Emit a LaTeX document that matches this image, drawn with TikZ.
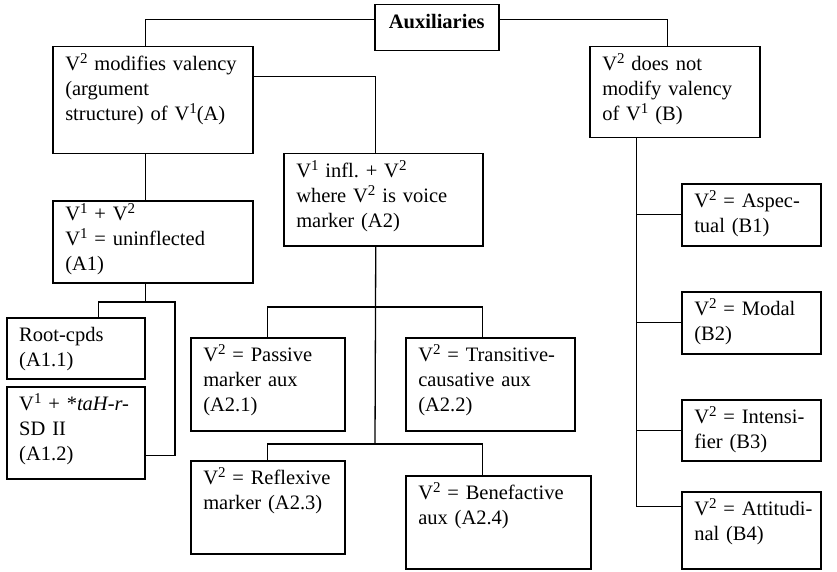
\documentclass[tikz,border=0pt]{standalone}
\usepackage{fontspec}
\setmainfont{Liberation Serif}
\usepackage{xcolor}
\usepackage{tikz}
\newcommand{\catfont}{\fontsize{20.5}{25}\selectfont\frenchspacing}
\newcommand{\sq}{\raisebox{7.5pt}{\fontsize{15}{15}\selectfont 2}}
\newcommand{\so}{\raisebox{7.5pt}{\fontsize{15}{15}\selectfont 1}}

\tikzset{
  basebox/.style 2 args={draw, line width=1.5pt, anchor=north west, inner sep=0pt,
    text width={#1}, text height=24pt, text depth={#2-24pt}, font=\catfont},
  catbox/.style 2 args={basebox={#1}{#2}, execute at begin node={\leftskip=12.5pt\rightskip=0pt plus 1fil}},
  link/.style={line width=1.3pt}
}

\begin{document}
\begin{tikzpicture}[x=1pt, y=-1pt]
    \useasboundingbox (0,0) rectangle (837,572);

    % top of the tree
    \node[basebox={124pt}{46pt}, align=center, font=\catfont\bfseries] (aux) at (374,4) {Auxiliaries};

    % branch A
    \node[catbox={200pt}{107pt}] (A) at (52,46) {V\sq{} modifies valency\\(argument\\structure) of V\so(A)};
    \node[catbox={200pt}{82pt}, text height=20pt, text depth=62pt] (A1) at (52,200) {V\so{} + V\sq\\V\so{} = uninflected\\(A1)};
    \node[catbox={138pt}{61pt}] (A11) at (6,317) {Root-cpds\\(A1.1)};
    \node[catbox={138pt}{92pt}] (A12) at (6,386) {V\so{} + *\textit{taH-r-}\\SD II\\(A1.2)};
    \node[catbox={199pt}{92pt}] (A2) at (283,153) {V\so{} infl. + V\sq\\where V\sq{} is voice\\marker (A2)};
    \node[catbox={154pt}{93pt}] (A21) at (190,337) {V\sq{} = Passive\\marker aux\\(A2.1)};
    \node[catbox={169pt}{93pt}] (A22) at (405,337) {V\sq{} = Transitive-\\causative aux\\(A2.2)};
    \node[catbox={154pt}{93pt}] (A23) at (190,460) {V\sq{} = Reflexive\\marker (A2.3)};
    \node[catbox={185pt}{93pt}] (A24) at (405,475) {V\sq{} = Benefactive\\aux (A2.4)};

    % branch B
    \node[catbox={170pt}{91pt}] (B) at (589,46) {V\sq{} does not\\modify valency\\of V\so{} (B)};
    \node[catbox={139pt}{62pt}] (B1) at (681,183) {V\sq{} = Aspec-\\tual (B1)};
    \node[catbox={139pt}{62pt}] (B2) at (681,291) {V\sq{} = Modal\\(B2)};
    \node[catbox={139pt}{61pt}] (B3) at (681,399) {V\sq{} = Intensi-\\fier (B3)};
    \node[catbox={139pt}{77pt}] (B4) at (681,491) {V\sq{} = Attitudi-\\nal (B4)};

    % connectors
    \draw[link] ([yshift=8pt]aux.west) -| ([xshift=-7pt]A.north);
    \draw[link] ([yshift=8pt]aux.east) -| ([xshift=-7pt]B.north);
    \draw[link] ([yshift=23.5pt]A.east) -| ([xshift=-7.5pt]A2.north);
    \draw[link] ([xshift=-7pt]A.south) -- ([xshift=-7pt]A1.north);

    \coordinate (a1fork) at (175,302);
    \draw[link] ([xshift=-7pt]A1.south) -- ([xshift=-7pt]A1.south |- a1fork);
    \draw[link] ([xshift=23pt]A11.north) |- (a1fork) |- ([yshift=-23pt]A12.east);

    \coordinate (a2fork) at (375,307);
    \coordinate (a2low) at (375,444);
    \draw[link] ([xshift=-7.5pt]A2.south) -- (a2low);
    \draw[link] (A21.north) |- (a2fork) -| ([xshift=-7.5pt]A22.north);
    \draw[link] (A23.north) |- (a2low) -| ([xshift=-15.5pt]A24.north);

    \coordinate (bstem) at ([xshift=-38pt]B.south);
    \draw[link] (bstem) |- ([yshift=23.5pt]B4.west);
    \foreach \b in {B1,B2,B3}
      \draw[link] (\b.west) -- (\b.west -| bstem);
\end{tikzpicture}
\end{document}
